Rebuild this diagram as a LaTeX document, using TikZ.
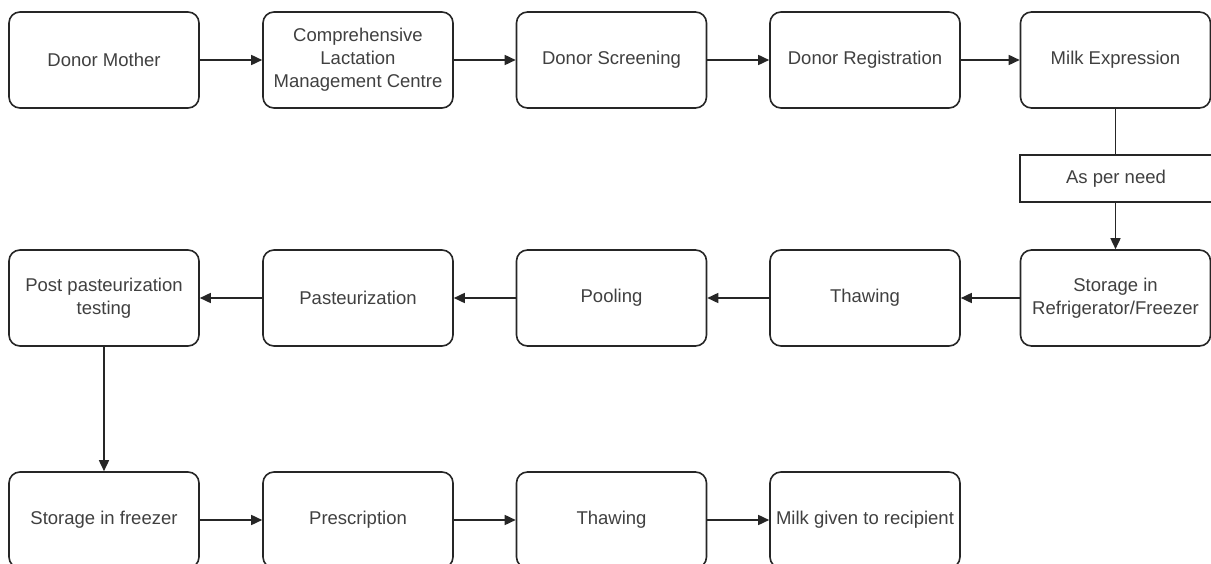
\documentclass[tikz,border=0pt]{standalone}
\usepackage{fontspec}
\setmainfont{Liberation Sans}
\usetikzlibrary{arrows.meta}
\begin{document}
\begin{tikzpicture}[x=1pt,y=-1pt,
  stepbox/.style={draw=black!85, line width=1.6pt, rounded corners=11pt,
    minimum width=190pt, minimum height=96pt, inner sep=0pt, align=center,
    text=black!75, font=\fontsize{18.5}{23}\selectfont},
  notebox/.style={draw=black!85, line width=1.6pt,
    minimum width=192pt, minimum height=47pt, inner sep=0pt, align=center,
    text=black!75, font=\fontsize{18.5}{23}\selectfont},
  flow/.style={draw=black!85, line width=1.6pt, -{Triangle[length=11pt,width=10pt]}},
  link/.style={draw=black!85, line width=1.6pt}]
\useasboundingbox (0,0) rectangle (1211,564);
\fill[white] (0,0) rectangle (1211,564);

% first row: collection
\node[stepbox] (mother)   at (104,60)    {Donor Mother};
\node[stepbox] (clmc)     at (358,60)    {Comprehensive\\Lactation\\Management Centre};
\node[stepbox] (screen)   at (611.5,60)  {Donor Screening};
\node[stepbox] (register) at (865,60)    {Donor Registration};
\node[stepbox] (express)  at (1115.5,60) {Milk Expression};
\node[notebox] (need)     at (1116,178.5) {As per need};

% second row: processing
\node[stepbox] (store1)   at (1115.5,298) {Storage in\\Refrigerator/Freezer};
\node[stepbox] (thaw1)    at (865,298)    {Thawing};
\node[stepbox] (pool)     at (611.5,298)  {Pooling};
\node[stepbox] (pasteur)  at (358,298)    {Pasteurization};
\node[stepbox] (test)     at (104,298)    {Post pasteurization\\testing};

% third row: dispensing
\node[stepbox] (store2)   at (104,520)   {Storage in freezer};
\node[stepbox] (rx)       at (358,520)   {Prescription};
\node[stepbox] (thaw2)    at (611.5,520) {Thawing};
\node[stepbox] (give)     at (865,520)   {Milk given to recipient};

% connectors
\draw[flow] (mother) -- (clmc);
\draw[flow] (clmc) -- (screen);
\draw[flow] (screen) -- (register);
\draw[flow] (register) -- (express);
\draw[link] (express.south) -- (express.south |- need.north);
\draw[flow] (need.south -| store1.north) -- (store1.north);
\draw[flow] (store1) -- (thaw1);
\draw[flow] (thaw1) -- (pool);
\draw[flow] (pool) -- (pasteur);
\draw[flow] (pasteur) -- (test);
\draw[flow] (test) -- (store2);
\draw[flow] (store2) -- (rx);
\draw[flow] (rx) -- (thaw2);
\draw[flow] (thaw2) -- (give);
\end{tikzpicture}
\end{document}
